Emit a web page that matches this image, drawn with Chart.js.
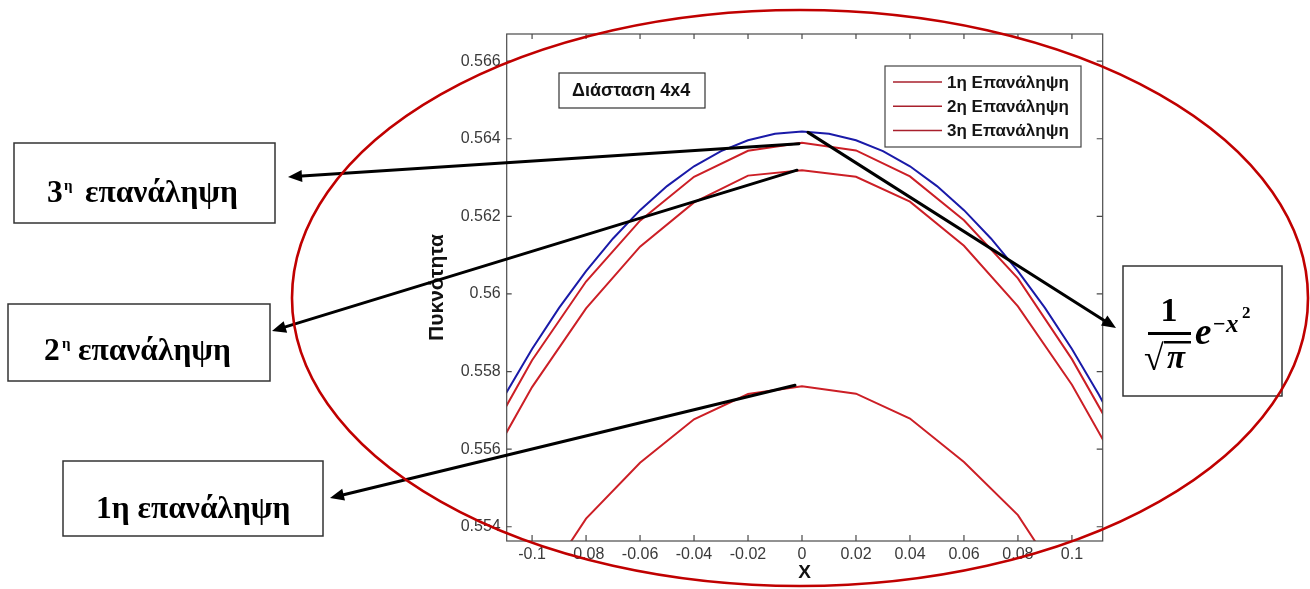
<!DOCTYPE html>
<html>
<head>
<meta charset="utf-8">
<title>Πυκνότητα – Διάσταση 4x4</title>
<script src="https://cdn.jsdelivr.net/npm/chart.js@4.4.1/dist/chart.umd.min.js"></script>
<style>
  html, body { margin: 0; padding: 0; background: #ffffff; }
  #wrap { position: relative; width: 1310px; height: 589px; }
</style>
</head>
<body>
<div id="wrap"><canvas id="chart"></canvas></div>
<script>
// Grid nodes of the iterated solution (step 0.02)
const xNodes = [-0.12, -0.10, -0.08, -0.06, -0.04, -0.02, 0, 0.02, 0.04, 0.06, 0.08, 0.10, 0.12];
const iter1  = [0.54960, 0.55210, 0.55421, 0.55565, 0.55677, 0.55742, 0.55762, 0.55743, 0.55679, 0.55567, 0.55430, 0.55217, 0.54967];
const iter2  = [0.55513, 0.55760, 0.55963, 0.56122, 0.56236, 0.56305, 0.56319, 0.56302, 0.56238, 0.56124, 0.55968, 0.55766, 0.55520];
const iter3  = [0.55582, 0.55829, 0.56032, 0.56189, 0.56302, 0.56369, 0.56390, 0.56370, 0.56303, 0.56190, 0.56040, 0.55832, 0.55587];

// Reference density 1/sqrt(pi) * exp(-x^2), sampled every 0.01
const xExact = [-0.12, -0.11, -0.10, -0.09, -0.08, -0.07, -0.06, -0.05, -0.04, -0.03, -0.02, -0.01, 0,
                 0.01, 0.02, 0.03, 0.04, 0.05, 0.06, 0.07, 0.08, 0.09, 0.10, 0.11, 0.12];
const exact  = [0.55612, 0.55740, 0.55858, 0.55964, 0.56059, 0.56143, 0.56216, 0.56278, 0.56329, 0.56368, 0.56396, 0.56413, 0.56419,
                0.56413, 0.56396, 0.56368, 0.56329, 0.56278, 0.56216, 0.56143, 0.56059, 0.55964, 0.55858, 0.55740, 0.55612];

const seriesNames = ['1η Επανάληψη', '2η Επανάληψη', '3η Επανάληψη'];

const xTickValues = [-0.1, -0.08, -0.06, -0.04, -0.02, 0, 0.02, 0.04, 0.06, 0.08, 0.1];
const xTickLabels = ['-0.1', '-0.08', '-0.06', '-0.04', '-0.02', '0', '0.02', '0.04', '0.06', '0.08', '0.1'];
const yTickValues = [0.554, 0.556, 0.558, 0.56, 0.562, 0.564, 0.566];
const yTickLabels = ['0.554', '0.556', '0.558', '0.56', '0.562', '0.564', '0.566'];

const SANS  = '"Liberation Sans", Arial, sans-serif';
const SERIF = '"Liberation Serif", "Times New Roman", serif';
const RED   = '#cc1f26';
const BLUE  = '#1a1aa8';

const pts = (xs, ys) => xs.map((x, i) => ({ x: x, y: ys[i] }));

function arrow(ctx, x0, y0, x1, y1) {
  const ang = Math.atan2(y1 - y0, x1 - x0);
  const len = 14, half = 6;
  const bx = x1 - len * Math.cos(ang), by = y1 - len * Math.sin(ang);
  ctx.beginPath();
  ctx.moveTo(x0, y0);
  ctx.lineTo(bx, by);
  ctx.stroke();
  ctx.beginPath();
  ctx.moveTo(x1, y1);
  ctx.lineTo(bx + half * Math.sin(ang), by - half * Math.cos(ang));
  ctx.lineTo(bx - half * Math.sin(ang), by + half * Math.cos(ang));
  ctx.closePath();
  ctx.fill();
}

function box(ctx, x0, y0, x1, y1, lw) {
  ctx.fillStyle = '#ffffff';
  ctx.fillRect(x0, y0, x1 - x0, y1 - y0);
  ctx.lineWidth = lw;
  ctx.strokeStyle = '#333333';
  ctx.strokeRect(x0, y0, x1 - x0, y1 - y0);
}

// Axes frame with inward ticks, legend, callouts and the surrounding ellipse
const overlay = {
  id: 'overlay',
  afterDraw(chart) {
    const { ctx, chartArea: a, scales: { x, y } } = chart;
    ctx.save();

    // frame
    ctx.strokeStyle = '#4a4a4a';
    ctx.lineWidth = 1.2;
    ctx.strokeRect(a.left, a.top, a.right - a.left, a.bottom - a.top);

    // ticks on all four sides, pointing inward
    ctx.beginPath();
    x.ticks.forEach(t => {
      const px = x.getPixelForValue(t.value);
      ctx.moveTo(px, a.bottom); ctx.lineTo(px, a.bottom - 6);
      ctx.moveTo(px, a.top);    ctx.lineTo(px, a.top + 5);
    });
    y.ticks.forEach(t => {
      const py = y.getPixelForValue(t.value);
      ctx.moveTo(a.left, py);  ctx.lineTo(a.left + 5, py);
      ctx.moveTo(a.right, py); ctx.lineTo(a.right - 6, py);
    });
    ctx.stroke();

    // legend
    const lx0 = 885, ly0 = 66, lx1 = 1081, ly1 = 147;
    ctx.fillStyle = '#ffffff';
    ctx.fillRect(lx0, ly0, lx1 - lx0, ly1 - ly0);
    ctx.strokeStyle = '#444444';
    ctx.lineWidth = 1.2;
    ctx.strokeRect(lx0, ly0, lx1 - lx0, ly1 - ly0);
    const legendItems = chart.data.datasets.filter(d => seriesNames.includes(d.label));
    ctx.font = 'bold 17px ' + SANS;
    ctx.textBaseline = 'middle';
    ctx.textAlign = 'left';
    legendItems.forEach((d, i) => {
      const ry = 82 + i * 24.2;
      ctx.strokeStyle = '#a8202c';
      ctx.lineWidth = 1.5;
      ctx.beginPath(); ctx.moveTo(893, ry); ctx.lineTo(942, ry); ctx.stroke();
      ctx.fillStyle = '#151515';
      ctx.fillText(d.label, 947, ry + 1);
    });

    // dimension label box
    ctx.fillStyle = '#ffffff';
    ctx.fillRect(559, 73, 146, 35);
    ctx.strokeStyle = '#333333';
    ctx.lineWidth = 1.2;
    ctx.strokeRect(559, 73, 146, 35);
    ctx.fillStyle = '#111111';
    ctx.font = 'bold 18px ' + SANS;
    ctx.fillText('Διάσταση 4x4', 572, 91);

    // callout boxes on the left
    box(ctx, 14, 143, 275, 223, 1.5);
    box(ctx, 8, 304, 270, 381, 1.5);
    box(ctx, 63, 461, 323, 536, 1.5);
    ctx.fillStyle = '#000000';
    ctx.textBaseline = 'alphabetic';
    ctx.font = 'bold 31.5px ' + SERIF;
    ctx.fillText('3', 47, 202);
    ctx.fillText('επανάληψη', 85, 202);
    ctx.fillText('2', 44, 360);
    ctx.fillText('επανάληψη', 78, 360);
    ctx.fillText('1η επανάληψη', 96, 518);
    ctx.font = 'bold 15px ' + SERIF;
    ctx.fillText('η', 64, 190);
    ctx.fillText('η', 62, 348);

    // formula box on the right
    box(ctx, 1123, 266, 1282, 396, 1.5);
    ctx.fillStyle = '#000000';
    ctx.textAlign = 'center';
    ctx.font = 'bold 34px ' + SERIF;
    ctx.fillText('1', 1169, 321);
    ctx.fillRect(1148, 332, 43, 3);
    ctx.textAlign = 'left';
    ctx.font = 'bold 36px ' + SERIF;
    ctx.fillText('√', 1144, 370);
    ctx.font = 'italic bold 33px ' + SERIF;
    ctx.fillText('π', 1167, 368);
    ctx.fillRect(1164, 341, 27, 2.5);
    ctx.font = 'italic bold 37px ' + SERIF;
    ctx.fillText('e', 1195, 344);
    ctx.font = 'bold 22px ' + SERIF;
    ctx.fillText('−', 1213, 331);
    ctx.font = 'italic bold 25px ' + SERIF;
    ctx.fillText('x', 1226, 332);
    ctx.font = 'bold 17px ' + SERIF;
    ctx.fillText('2', 1242, 318);

    // arrows from the curve peaks to the callouts
    const i0 = xNodes.indexOf(0);
    const px0 = x.getPixelForValue(0);
    ctx.strokeStyle = '#000000';
    ctx.fillStyle = '#000000';
    ctx.lineWidth = 3;
    ctx.lineCap = 'round';
    arrow(ctx, px0 - 3, y.getPixelForValue(iter3[i0]) + 1, 288, 177);
    arrow(ctx, px0 - 5, y.getPixelForValue(iter2[i0]), 272, 331);
    arrow(ctx, px0 - 7, y.getPixelForValue(iter1[i0]) - 1, 330, 498);
    arrow(ctx, px0 + 6, y.getPixelForValue(exact[xExact.indexOf(0)]) + 1, 1116, 328);

    // ellipse around the plot
    ctx.strokeStyle = '#c00000';
    ctx.lineWidth = 2.6;
    ctx.beginPath();
    ctx.ellipse(800, 298, 508, 288, 0, 0, Math.PI * 2);
    ctx.stroke();

    ctx.restore();
  }
};

const lineStyle = (color) => ({
  borderColor: color,
  backgroundColor: color,
  borderWidth: 2,
  pointRadius: 0,
  tension: 0,
  fill: false
});

new Chart(document.getElementById('chart'), {
  type: 'line',
  data: {
    datasets: [
      Object.assign({ label: seriesNames[0], data: pts(xNodes, iter1) }, lineStyle(RED)),
      Object.assign({ label: seriesNames[1], data: pts(xNodes, iter2) }, lineStyle(RED)),
      Object.assign({ label: seriesNames[2], data: pts(xNodes, iter3) }, lineStyle(RED)),
      Object.assign({ label: '1/√π · e^(−x²)', data: pts(xExact, exact) }, lineStyle(BLUE))
    ]
  },
  options: {
    responsive: true,
    maintainAspectRatio: false,
    animation: false,
    events: [],
    layout: { padding: { left: 421, top: 34, right: 207.3, bottom: 0 } },
    plugins: { legend: { display: false }, tooltip: { enabled: false }, title: { display: false } },
    scales: {
      x: {
        type: 'linear',
        min: -0.1094,
        max: 0.1114,
        bounds: 'data',
        afterBuildTicks: s => { s.ticks = xTickValues.map(v => ({ value: v })); },
        afterFit: s => { s.height = 48; },
        grid: { display: false, drawTicks: false },
        border: { display: false },
        ticks: {
          autoSkip: false, maxRotation: 0, minRotation: 0, padding: 4,
          color: '#3a3a3a',
          font: { family: SANS, size: 16 },
          callback: (v, i) => xTickLabels[i]
        },
        title: {
          display: true, text: 'X', color: '#111111',
          font: { family: SANS, size: 19, weight: 'bold' },
          padding: { top: 0, bottom: 5 }
        }
      },
      y: {
        type: 'linear',
        min: 0.553633,
        max: 0.5667,
        bounds: 'data',
        afterBuildTicks: s => { s.ticks = yTickValues.map(v => ({ value: v })); },
        afterFit: s => { s.width = 85.7; },
        grid: { display: false, drawTicks: false },
        border: { display: false },
        ticks: {
          autoSkip: false, padding: 6,
          color: '#3a3a3a',
          font: { family: SANS, size: 16 },
          callback: (v, i) => yTickLabels[i]
        },
        title: {
          display: true, text: 'Πυκνότητα', color: '#111111',
          font: { family: SANS, size: 21, weight: 'bold' },
          padding: { top: 4, bottom: 0 }
        }
      }
    }
  },
  plugins: [overlay]
});
</script>
</body>
</html>
